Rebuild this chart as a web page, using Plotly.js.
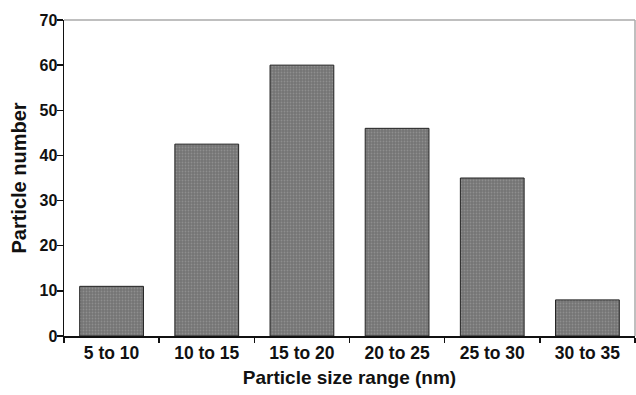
<!DOCTYPE html>
<html><head><meta charset="utf-8">
<script src="https://cdn.plot.ly/plotly-3.0.1.min.js"></script>
<style>html,body{margin:0;padding:0;background:#fff}#chart{width:636px;height:395px}</style>
</head><body><div id="chart"></div>
<script>
const categories = ["5 to 10", "10 to 15", "15 to 20", "20 to 25", "25 to 30", "30 to 35"];
const particleCounts = [11, 42.5, 60, 46, 35, 8];
const yTicks = [0, 10, 20, 30, 40, 50, 60, 70];

const fam = "Liberation Sans, Arial, sans-serif";
Plotly.newPlot("chart", [{
  type: "bar",
  x: categories,
  y: particleCounts,
  marker: {
    color: "#7c7c7c",
    line: {color: "#222", width: 1},
    pattern: {shape: ".", size: 3, solidity: 0.3, fgcolor: "#8e8e8e", bgcolor: "#747474", fillmode: "replace"}
  },
  hoverinfo: "skip"
}], {
  width: 636, height: 395,
  margin: {l: 64, r: 1, t: 20, b: 59},
  paper_bgcolor: "#fff", plot_bgcolor: "#fff",
  bargap: 0.33,
  showlegend: false,
  font: {family: fam, color: "#111"},
  xaxis: {
    range: [-0.5, 5.5],
    showline: true, linecolor: "#111", linewidth: 1.5,
    ticks: "outside", tickson: "boundaries", ticklen: 5, tickcolor: "#111", tickwidth: 1.5,
    tickfont: {family: fam, size: 17.5, color: "#111", weight: "bold"},
    showgrid: false, zeroline: false,
    title: {text: "<b>Particle size range (nm)</b>", font: {family: fam, size: 19, color: "#111"}, standoff: 9}
  },
  yaxis: {
    range: [0, 70],
    tickvals: yTicks,
    showline: true, linecolor: "#111", linewidth: 1.5,
    ticks: "outside", ticklen: 6, tickcolor: "#111", tickwidth: 1.5,
    ticklabelstandoff: -4,
    tickfont: {family: fam, size: 16, color: "#111", weight: "bold"},
    showgrid: false, zeroline: false,
    title: {text: "<b>Particle number</b>", font: {family: fam, size: 20, color: "#111"}, standoff: 7}
  },
  shapes: [
    {type: "line", xref: "paper", yref: "paper", x0: 0, x1: 1, y0: 1, y1: 1, line: {color: "#aaa", width: 1.5}},
    {type: "line", xref: "paper", yref: "paper", x0: 1, x1: 1, y0: 0, y1: 1, line: {color: "#aaa", width: 1.5}}
  ]
}, {displayModeBar: false, staticPlot: true});
</script></body></html>
